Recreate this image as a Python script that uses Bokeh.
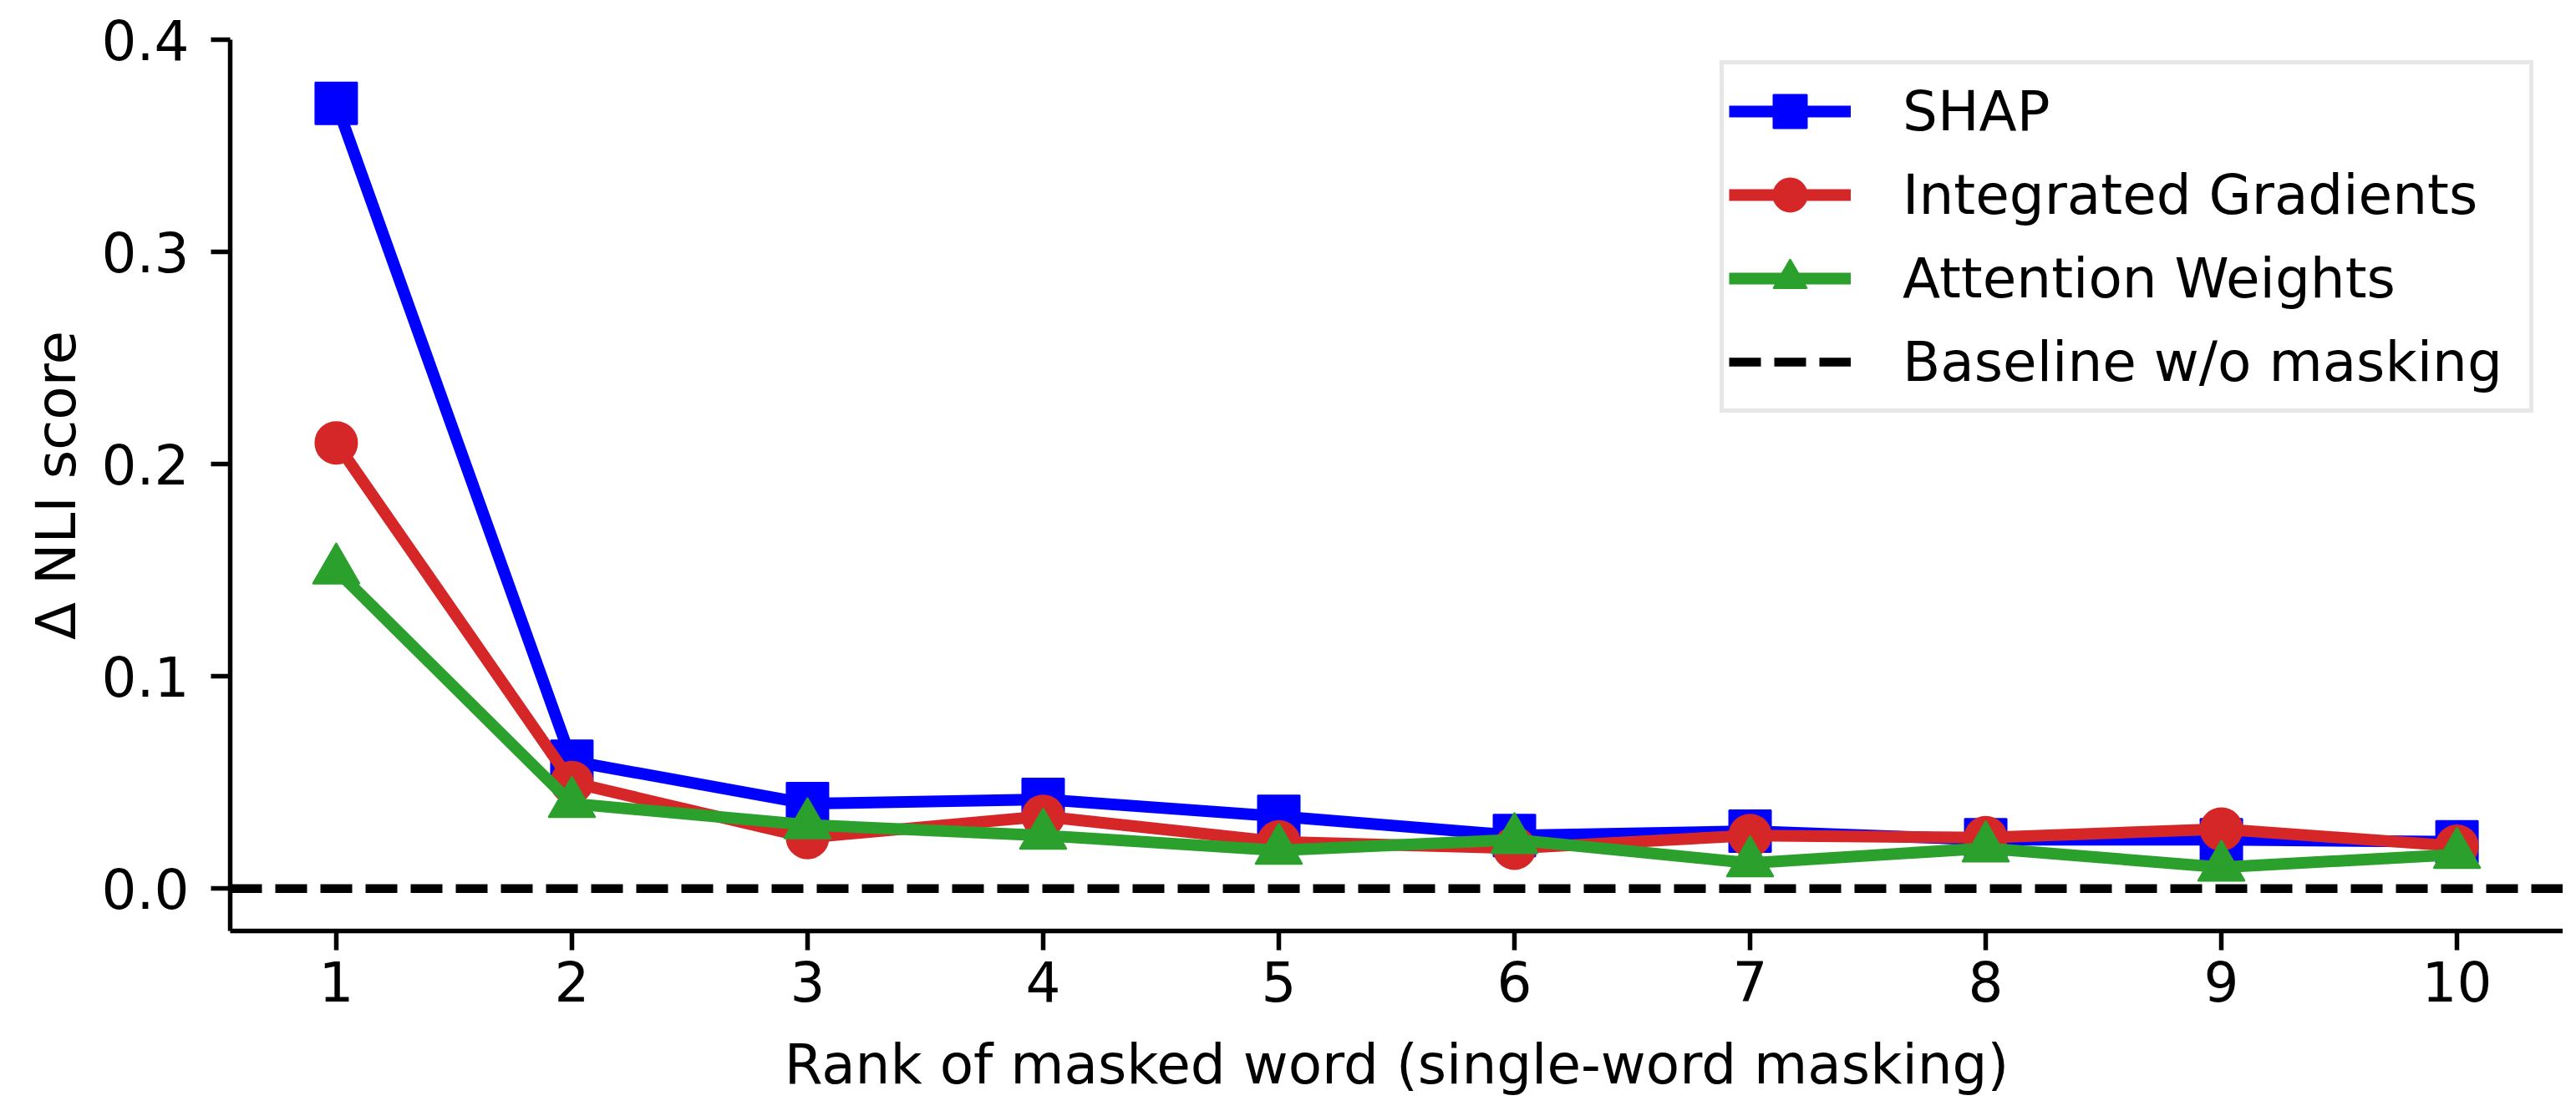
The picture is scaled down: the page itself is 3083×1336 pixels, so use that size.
from bokeh.plotting import figure
from bokeh.models import (Range1d, FixedTicker, Legend, LegendItem, Title,
                          ColumnDataSource, NumeralTickFormatter)
from bokeh.embed import file_html
from bokeh.resources import INLINE

ranks = [1, 2, 3, 4, 5, 6, 7, 8, 9, 10]
shap = [0.370, 0.060, 0.040, 0.042, 0.034, 0.025, 0.027, 0.023, 0.023, 0.022]
integrated_gradients = [0.210, 0.050, 0.024, 0.034, 0.022, 0.019, 0.025, 0.024, 0.028, 0.020]
attention_weights = [0.150, 0.040, 0.030, 0.025, 0.018, 0.023, 0.012, 0.019, 0.010, 0.016]
baseline_value = 0.0
y_ticks = [0.0, 0.1, 0.2, 0.3, 0.4]
x_ticks = ranks
x_min, x_max = 0.55, 10.45
y_min, y_max = -0.02, 0.4

FONT = "DejaVu Sans"
FS = "66px"
FRAME_W, FRAME_H = 2792, 1067

p = figure(frame_width=FRAME_W, frame_height=FRAME_H,
           min_border_left=275, min_border_right=0, min_border_top=47, min_border_bottom=200,
           x_range=Range1d(x_min, x_max), y_range=Range1d(y_min, y_max),
           output_backend="svg", toolbar_location=None, background_fill_color="white",
           border_fill_color="white")
p.outline_line_color = None
p.xgrid.visible = False
p.ygrid.visible = False

for ax in (p.xaxis[0], p.yaxis[0]):
    ax.axis_line_width = 5.5
    ax.axis_line_color = "black"
    ax.major_tick_line_width = 5.5
    ax.major_tick_line_color = "black"
    ax.major_tick_out = 23
    ax.major_tick_in = 0
    ax.minor_tick_out = 0
    ax.minor_tick_in = 0
    ax.major_label_text_font = FONT
    ax.major_label_text_font_size = FS
    ax.major_label_text_color = "black"
    ax.axis_label_text_font = FONT
    ax.axis_label_text_font_size = FS
    ax.axis_label_text_font_style = "normal"
    ax.axis_label_text_color = "black"

p.xaxis.major_label_standoff = 12
p.yaxis.major_label_standoff = 26
p.xaxis.ticker = FixedTicker(ticks=x_ticks)
p.yaxis.ticker = FixedTicker(ticks=y_ticks)
p.yaxis.formatter = NumeralTickFormatter(format="0.0")
p.yaxis.axis_label = "Δ NLI score"
p.yaxis.axis_label_standoff = 13

# x-axis title as a bottom title (keeps the canvas within the window)
p.add_layout(Title(text="Rank of masked word (single-word masking)", align="center",
                   text_font=FONT, text_font_size=FS, text_font_style="normal",
                   text_color="black", standoff=64), "below")

LW = 14
series = [
    ("SHAP", shap, "#0000ff", "square", 50),
    ("Integrated Gradients", integrated_gradients, "#d62728", "circle", 50),
    ("Attention Weights", attention_weights, "#2ca02c", "triangle", 56),
]
items = []
for name, vals, col, mk, sz in series:
    src = ColumnDataSource(dict(x=ranks, y=vals))
    ln = p.line("x", "y", source=src, line_color=col, line_width=LW, line_join="round")
    sc = p.scatter("x", "y", source=src, marker=mk, size=sz, fill_color=col,
                   line_color=col, line_width=2)
    items.append(LegendItem(label=name, renderers=[ln, sc]))

base_src = ColumnDataSource(dict(x=[x_min, x_max], y=[baseline_value, baseline_value]))
base = p.line("x", "y", source=base_src, line_color="black", line_width=10.5,
              line_dash="38 16")
items.append(LegendItem(label="Baseline w/o masking", renderers=[base]))

legend = Legend(items=items, location=(1783, 620), margin=0,
                padding=6, spacing=0,
                glyph_width=146, glyph_height=100, label_standoff=62,
                label_text_font=FONT, label_text_font_size=FS,
                label_text_color="black", label_height=100, label_width=744,
                label_text_baseline="middle",
                border_line_color="#d0d0d0", border_line_width=5,
                background_fill_color="white", background_fill_alpha=1.0)
p.add_layout(legend)

open("out.html", "w").write(file_html(p, INLINE))
